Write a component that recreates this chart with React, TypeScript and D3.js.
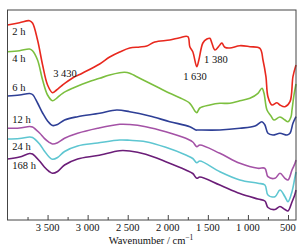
import * as d3 from "d3";
import { useEffect, useRef } from "react";

// FTIR spectra, wavenumber (cm-1) vs transmittance (arbitrary units, offset)
const wavenumbers2h = [4000, 3850, 3725, 3688, 3625, 3562, 3500, 3438, 3388, 3312, 3188, 3062, 2850, 2725, 2600, 2475, 2350, 2262, 2162, 1975, 1850, 1750, 1725, 1688, 1638, 1612, 1562, 1512, 1475, 1450, 1412, 1350, 1325, 1288, 1225, 1100, 975, 850, 812, 775, 750, 700, 638, 600, 538, 475, 438, 400];
const values2h = [194, 196.3, 198.3, 196, 179, 154, 134, 126.3, 129, 134, 141, 146, 155, 162, 167, 171, 172, 173, 177, 179, 181.3, 182.3, 172.3, 167.3, 152.3, 159, 176, 180, 180.7, 176, 169, 174, 176, 171.7, 171, 173.3, 172.3, 170.7, 159, 142.3, 122.3, 114, 116.3, 114, 112.3, 117.3, 142.3, 154];

const wavenumbers4h = [4000, 3850, 3725, 3688, 3625, 3562, 3500, 3438, 3388, 3312, 3188, 3062, 2850, 2725, 2600, 2538, 2475, 2350, 2225, 2100, 1975, 1850, 1725, 1662, 1638, 1600, 1475, 1350, 1225, 1100, 975, 875, 825, 800, 762, 712, 675, 600, 538, 500, 462, 450, 425, 400];
const values4h = [167.3, 168.3, 170, 168.3, 159, 139, 124, 118.3, 120.7, 125.7, 130.7, 135, 140.7, 144, 146.3, 146.7, 145.7, 140.7, 135.7, 130.7, 125.7, 121.3, 115.7, 108, 106.3, 111, 114, 115.7, 115.7, 118.3, 120.7, 125.7, 130.7, 126, 109, 103, 99, 102, 99, 97.3, 102.3, 109, 124, 135];

const wavenumbers6h = [4000, 3850, 3725, 3688, 3625, 3562, 3500, 3438, 3375, 3288, 3125, 2850, 2638, 2475, 2225, 1975, 1725, 1650, 1625, 1350, 1100, 912, 825, 788, 750, 688, 600, 512, 475, 438, 400];
const values6h = [123, 124, 125.5, 124.5, 116, 106, 98, 93.5, 94.5, 99, 102.3, 105.7, 109, 107.3, 103, 97.3, 92.3, 89, 89, 89, 90.7, 93, 97.3, 94, 85.7, 84, 85.7, 84, 85.7, 95.7, 102.3];

// 12 h, 24 h and 168 h share the same sampling
const wavenumbersLate = [4000, 3850, 3725, 3688, 3600, 3540, 3480, 3438, 3375, 3288, 3125, 2875, 2600, 2475, 2275, 2025, 1775, 1688, 1638, 1600, 1350, 1100, 875, 788, 750, 662, 600, 538, 500, 450, 412, 400];
const values12h = [90.7, 91, 92.5, 92, 86, 80.7, 76.7, 75, 76.3, 80.7, 85.7, 90.7, 94.7, 94.5, 92.3, 87.3, 80.7, 77, 72.3, 74, 65.7, 55.7, 50.7, 50.7, 42.3, 40.7, 45.7, 40.7, 39, 49, 55.7, 59];
const values24h = [80, 80.5, 82, 81.5, 75, 68, 62, 59.7, 61.5, 67.5, 73, 76, 79, 78.7, 77.3, 71.7, 64, 60.5, 56.3, 58, 47.3, 39, 35.7, 34, 24, 22.3, 29, 22.3, 17.3, 27.3, 42.3, 47];
const values168h = [60, 62, 65.5, 65, 58, 52, 47.5, 45.7, 47.5, 54, 60, 63.5, 68.3, 68, 64.7, 57.3, 49, 45.5, 40.7, 42, 34, 25.5, 20, 18, 11.5, 9.5, 12.5, 9.5, 8, 17, 25, 29];

const seriesNames = ["2 h", "4 h", "6 h", "12 h", "24 h", "168 h"];
const seriesColors = ["#e8281e", "#7cbf3f", "#2e3f96", "#a452a6", "#5ec6d1", "#6b1d78"];
const seriesX = [wavenumbers2h, wavenumbers4h, wavenumbers6h, wavenumbersLate, wavenumbersLate, wavenumbersLate];
const seriesY = [values2h, values4h, values6h, values12h, values24h, values168h];
// where each curve name sits (value at wavenumber 3940)
const nameLabelY = [184, 157.5, 128.5, 96, 69.5, 50.5];

const peakLabels = ["3 430", "1 630", "1 380"];
const peakLabelX = [3430, 1660, 1400];
const peakLabelY = [142, 139.5, 156.5];

const majorTicks = [3500, 3000, 2500, 2000, 1500, 1000, 500];
const tickLabels = ["3 500", "3 000", "2 500", "2 000", "1 500", "1 000", "500"];

export default function App() {
  const ref = useRef<SVGSVGElement>(null);

  useEffect(() => {
    const width = 301;
    const height = 252;
    const margin = { top: 10, right: 5, bottom: 32, left: 7.5 };
    const font = "'Liberation Serif', 'Times New Roman', serif";

    const svg = d3.select(ref.current);
    svg.selectAll("*").remove();

    const x = d3
      .scaleLinear()
      .domain([4000, 400])
      .range([margin.left, width - margin.right]);

    const y = d3
      .scaleLinear()
      .domain([-1, 209])
      .range([height - margin.bottom, margin.top]);

    const line = d3
      .line<[number, number]>()
      .x((d) => x(d[0]))
      .y((d) => y(d[1]))
      .curve(d3.curveCatmullRom.alpha(0.5));

    // curves
    seriesNames.forEach((name, i) => {
      const pts = seriesX[i].map((w, j) => [w, seriesY[i][j]] as [number, number]);
      svg
        .append("path")
        .attr("d", line(pts))
        .attr("fill", "none")
        .attr("stroke", seriesColors[i])
        .attr("stroke-width", 1.6)
        .attr("stroke-linejoin", "round");

      svg
        .append("text")
        .attr("x", x(3940))
        .attr("y", y(nameLabelY[i]))
        .attr("font-family", font)
        .attr("font-size", 10.5)
        .attr("fill", "#111")
        .text(name);
    });

    peakLabels.forEach((t, i) => {
      svg
        .append("text")
        .attr("x", x(peakLabelX[i]))
        .attr("y", y(peakLabelY[i]))
        .attr("text-anchor", i === 0 ? "start" : "middle")
        .attr("font-family", font)
        .attr("font-size", 10.5)
        .attr("fill", "#111")
        .text(t);
    });

    // frame
    svg
      .append("rect")
      .attr("x", margin.left)
      .attr("y", margin.top)
      .attr("width", width - margin.left - margin.right)
      .attr("height", height - margin.top - margin.bottom)
      .attr("fill", "none")
      .attr("stroke", "#444")
      .attr("stroke-width", 1);

    // bottom axis, ticks pointing inward: minor every 250, major every 500
    const minor = svg
      .append("g")
      .attr("transform", `translate(0,${height - margin.bottom})`)
      .call(
        d3
          .axisBottom(x)
          .tickValues(d3.range(3750, 400, -500))
          .tickSize(-3)
          .tickFormat(() => "")
      );
    minor.select(".domain").remove();
    minor.selectAll("line").attr("stroke", "#444");

    const major = svg
      .append("g")
      .attr("transform", `translate(0,${height - margin.bottom})`)
      .call(
        d3
          .axisBottom(x)
          .tickValues(majorTicks)
          .tickSize(-5)
          .tickFormat(() => "")
      );
    major.select(".domain").remove();
    major.selectAll("line").attr("stroke", "#444");

    svg
      .append("g")
      .selectAll("text")
      .data(majorTicks)
      .enter()
      .append("text")
      .attr("x", (d) => x(d))
      .attr("y", height - margin.bottom + 11)
      .attr("text-anchor", "middle")
      .attr("font-family", font)
      .attr("font-size", 10.5)
      .attr("fill", "#111")
      .text((d, i) => tickLabels[i]);

    const title = svg
      .append("text")
      .attr("x", 151)
      .attr("y", height - 8)
      .attr("text-anchor", "middle")
      .attr("font-family", font)
      .attr("font-size", 10.5)
      .attr("fill", "#111");
    title.append("tspan").text("Wavenumber / cm");
    title.append("tspan").attr("dy", -4).attr("font-size", 7.5).text("\u22121");
  }, []);

  return (
    <svg
      ref={ref}
      width={301}
      height={252}
      style={{ position: "absolute", left: 0, top: 0, display: "block", background: "#fff" }}
    />
  );
}
